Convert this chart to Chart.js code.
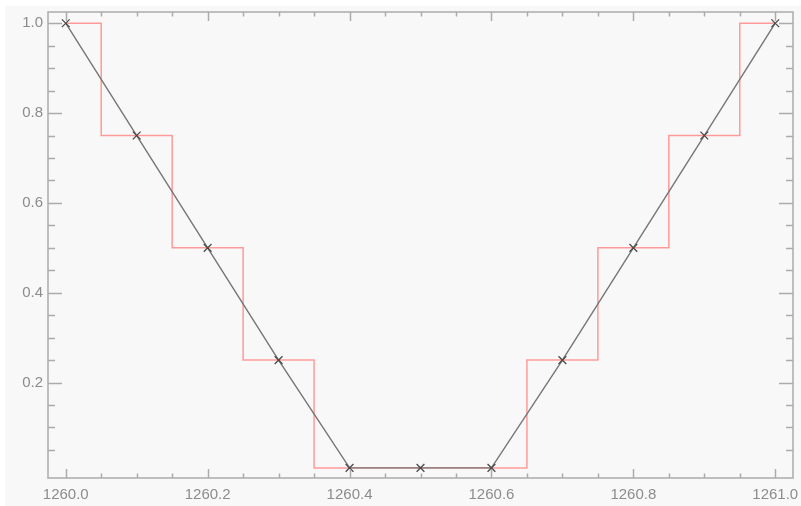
<!DOCTYPE html>
<html>
<head>
<meta charset="utf-8">
<title>Line profile</title>
<script src="https://cdn.jsdelivr.net/npm/chart.js@4"></script>
<style>
    html, body { margin: 0; padding: 0; background: #ffffff; }
    #wrap { width: 801px; height: 506px; position: relative; }
</style>
</head>
<body>
<div id="wrap"><canvas id="myChart" width="801" height="506"></canvas></div>
<script>
'use strict';

// wavelength points and profile values
var wave = [1260.0, 1260.1, 1260.2, 1260.3, 1260.4, 1260.5, 1260.6, 1260.7, 1260.8, 1260.9, 1261.0];
var profile = [1.0, 0.75, 0.5, 0.25, 0.01, 0.01, 0.01, 0.25, 0.5, 0.75, 1.0];
// the binned (histogram) version, same bins
var binned = [1.0, 0.75, 0.5, 0.25, 0.01, 0.01, 0.01, 0.25, 0.5, 0.75, 1.0];

var xTicks = [1260.0, 1260.2, 1260.4, 1260.6, 1260.8, 1261.0];
var yTicks = [0.2, 0.4, 0.6, 0.8, 1.0];
var xMinor = 0.05;
var yMinor = 0.05;

var axisColor = '#ababab';
var textColor = '#8c8c8c';

function toPoints(xs, ys) {
    var pts = [];
    for (var i = 0; i < xs.length; i++) {
        pts.push({ x: xs[i], y: ys[i] });
    }
    return pts;
}

// grey background with a thin white strip top/left
var bgPlugin = {
    id: 'bg',
    beforeDraw: function (chart) {
        var ctx = chart.ctx;
        ctx.save();
        ctx.fillStyle = '#f8f8f8';
        ctx.fillRect(5, 6, chart.width - 5, chart.height - 6);
        ctx.restore();
    }
};

// inward tick marks on all four sides (IDL style)
var tickPlugin = {
    id: 'inTicks',
    afterDatasetsDraw: function (chart) {
        var ctx = chart.ctx;
        var a = chart.chartArea;
        var xs = chart.scales.x;
        var ys = chart.scales.y;
        ctx.save();
        ctx.strokeStyle = axisColor;
        ctx.lineWidth = 1.5;
        ctx.beginPath();
        var i, v, p, len;
        for (i = 0; i <= 20; i++) {
            v = 1260.0 + i * xMinor;
            p = Math.round(xs.getPixelForValue(v)) + 0.5;
            len = (i % 4 === 0) ? 9 : 4.5;
            ctx.moveTo(p, a.bottom); ctx.lineTo(p, a.bottom - len);
            ctx.moveTo(p, a.top); ctx.lineTo(p, a.top + len);
        }
        for (i = 1; i <= 20; i++) {
            v = i * yMinor;
            p = Math.round(ys.getPixelForValue(v)) + 0.5;
            len = (i % 4 === 0) ? 14 : 7;
            ctx.moveTo(a.left, p); ctx.lineTo(a.left + len, p);
            ctx.moveTo(a.right, p); ctx.lineTo(a.right - len, p);
        }
        ctx.stroke();
        ctx.strokeRect(a.left, a.top, a.right - a.left, a.bottom - a.top);
        ctx.restore();
    }
};

var ctx = document.getElementById('myChart').getContext('2d');
var chart = new Chart(ctx, {
    type: 'line',
    data: {
        datasets: [
            {
                label: 'profile',
                data: toPoints(wave, profile),
                borderColor: '#767676',
                borderWidth: 1.4,
                pointStyle: 'crossRot',
                pointRadius: 5.5,
                pointBorderColor: '#4a4a4a',
                pointBorderWidth: 1.3,
                fill: false,
                tension: 0
            },
            {
                label: 'binned',
                data: toPoints(wave, binned),
                borderColor: '#ff9a9a',
                borderWidth: 1.5,
                stepped: 'middle',
                pointRadius: 0,
                fill: false
            }
        ]
    },
    options: {
        responsive: false,
        animation: false,
        layout: { padding: { top: 12, right: 8, left: 0, bottom: 0 } },
        plugins: {
            legend: { display: false },
            tooltip: { enabled: false }
        },
        scales: {
            x: {
                type: 'linear',
                min: 1259.975,
                max: 1261.025,
                grid: { display: false, drawTicks: false },
                border: { display: false },
                afterBuildTicks: function (scale) {
                    scale.ticks = xTicks.map(function (v) { return { value: v }; });
                },
                afterFit: function (scale) {
                    scale.height = 28;
                    scale.paddingLeft = 0;
                    scale.paddingRight = 0;
                },
                ticks: {
                    padding: 8,
                    color: textColor,
                    maxRotation: 0,
                    autoSkip: false,
                    font: { family: 'Liberation Sans', size: 15 },
                    callback: function (v) { return v.toFixed(1); }
                }
            },
            y: {
                type: 'linear',
                min: -0.0125,
                max: 1.025,
                grid: { display: false, drawTicks: false },
                border: { display: false },
                afterBuildTicks: function (scale) {
                    scale.ticks = yTicks.map(function (v) { return { value: v }; });
                },
                afterFit: function (scale) {
                    scale.width = 48;
                    scale.paddingTop = 0;
                    scale.paddingBottom = 0;
                },
                ticks: {
                    padding: 5,
                    color: textColor,
                    autoSkip: false,
                    font: { family: 'Liberation Sans', size: 15 },
                    callback: function (v) { return v.toFixed(1); }
                }
            }
        }
    },
    plugins: [bgPlugin, tickPlugin]
});
</script>
</body>
</html>
